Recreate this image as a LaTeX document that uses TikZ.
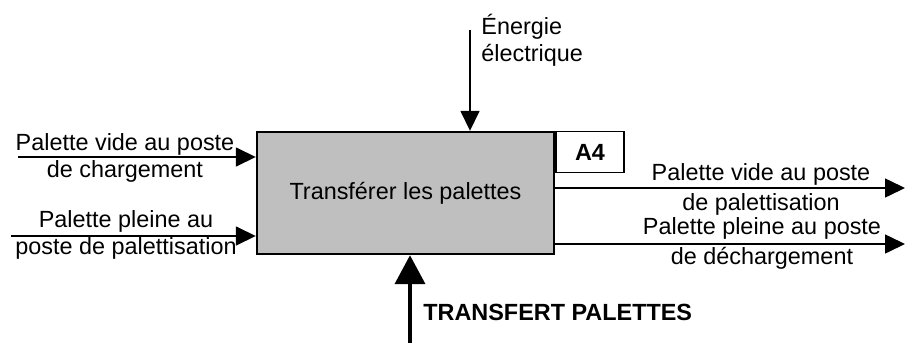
\documentclass[tikz,border=0pt]{standalone}
\usepackage{fontspec}
\setmainfont{Liberation Sans}
\usetikzlibrary{arrows.meta}
\begin{document}
\begin{tikzpicture}[x=0.5pt,y=-0.5pt,
  flow/.style={line width=0.8pt,-{Triangle[length=10pt,width=9.5pt]}},
  lbl/.style={align=center,inner sep=0pt,font=\fontsize{11.7}{13.5}\selectfont}]
\useasboundingbox (0,0) rectangle (906,343);

% activity box
\node[draw,line width=1.2pt,fill=black!25,minimum width=148.5pt,minimum height=61pt,
  inner sep=0pt,font=\fontsize{11.7}{13.5}\selectfont] (fn) at (405.5,193) {Transférer les palettes};
\node[draw,line width=0.8pt,minimum width=34pt,minimum height=20.5pt,anchor=north west,
  inner sep=0pt,font=\fontsize{11.7}{13.5}\selectfont\bfseries] (ref) at (fn.north east) {A4};

% inputs
\coordinate (in1) at (18,157);
\coordinate (in2) at (11,236);
\draw[flow] (in1) -- (in1 -| fn.west);
\draw[flow] (in2) -- (in2 -| fn.west);
\node[lbl] (inlbl1) at (125,158) {Palette vide au poste\\de chargement};
\node[lbl] (inlbl2) at (126,235) {Palette pleine au\\poste de palettisation};

% outputs
\coordinate (out1) at (905,188);
\coordinate (out2) at (905,244);
\draw[flow] (out1 -| fn.east) -- (out1);
\draw[flow] (out2 -| fn.east) -- (out2);
\node[lbl,font=\fontsize{11.7}{15}\selectfont] (outlbl1) at (761,189) {Palette vide au poste\\de palettisation};
\node[lbl,font=\fontsize{11.7}{15}\selectfont] (outlbl2) at (762,243) {Palette pleine au poste\\de déchargement};

% control
\coordinate (ctrl) at (470,30);
\draw[flow] (ctrl) -- (ctrl |- fn.north);
\node[lbl,align=left,anchor=west] (ctrllbl) at (481,40) {Énergie\\électrique};

% mechanism
\coordinate (mech) at (410,343);
\draw[line width=2pt,-{Triangle[length=14.5pt,width=15pt]}] (mech) -- (mech |- fn.south);
\node[lbl,anchor=west,font=\fontsize{11.7}{13.5}\selectfont\bfseries] (mechlbl) at (423,312) {TRANSFERT PALETTES};
\end{tikzpicture}
\end{document}
